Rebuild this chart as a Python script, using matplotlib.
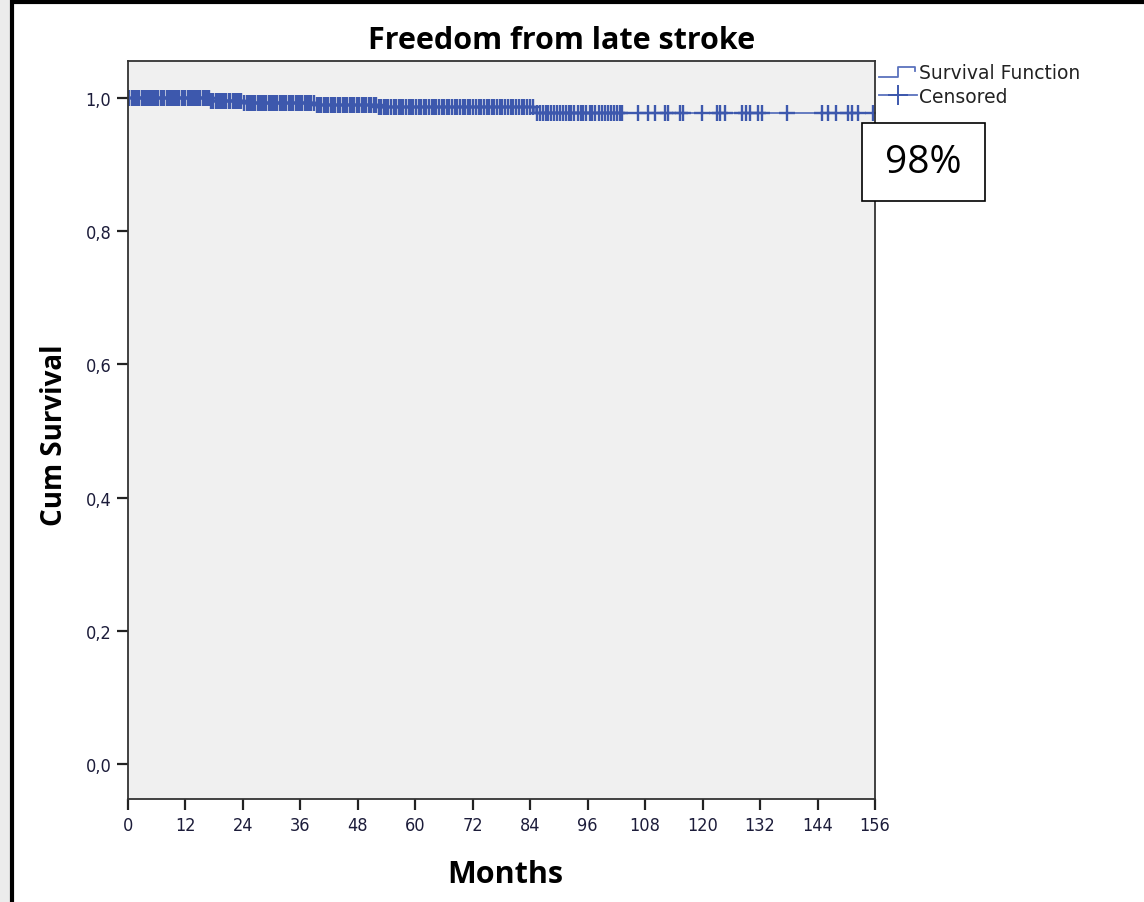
"""
Kaplan-Meier plot: freedom from late stroke
"""
import matplotlib
matplotlib.use("Agg")
import matplotlib.pyplot as plt
from matplotlib.patches import Rectangle
from matplotlib.lines import Line2D
from matplotlib.legend_handler import HandlerBase
from matplotlib.ticker import FuncFormatter

# event times (months) and survival after each event
event_months = [0.0, 17.1, 24.0, 39.0, 52.0, 85.0]
event_survival = [1.0, 0.996, 0.993, 0.990, 0.987, 0.977]

# censored follow-up times (months)
censored_months = [
    0.3, 0.8, 1.2, 1.7, 2.0, 2.4, 2.9, 3.3, 3.8, 4.1, 4.6, 5.0, 5.5, 5.9,
    6.3, 6.8, 7.2, 7.6, 8.1, 8.5, 9.0, 9.4, 9.8, 10.3, 10.7, 11.2, 11.6,
    12.0, 12.5, 12.9, 13.3, 13.8, 14.2, 14.7, 15.1, 15.6, 16.0, 16.5, 16.9,
    17.4, 17.8, 18.3, 18.7, 19.2, 19.6, 20.1, 20.5, 21.0, 21.4, 21.9, 22.3,
    22.8, 23.2, 23.7, 24.3, 24.8, 25.2, 25.7, 26.1, 26.6, 27.1, 27.5, 28.0,
    28.4, 28.9, 29.4, 29.8, 30.3, 30.8, 31.2, 31.7, 32.2, 32.6, 33.1, 33.6,
    34.0, 34.5, 35.0, 35.5, 35.9, 36.4, 36.9, 37.4, 37.8, 38.3, 38.8, 39.4,
    39.9, 40.4, 40.9, 41.4, 41.8, 42.3, 42.8, 43.3, 43.8, 44.3, 44.8, 45.3,
    45.8, 46.3, 46.8, 47.3, 47.8, 48.3, 48.8, 49.3, 49.8, 50.3, 50.8, 51.3,
    51.8, 52.4, 52.9, 53.4, 53.9, 54.4, 54.9, 55.5, 56.0, 56.5, 57.0, 57.5,
    58.1, 58.6, 59.1, 59.6, 60.2, 60.7, 61.2, 61.8, 62.3, 62.8, 63.4, 63.9,
    64.4, 65.0, 65.5, 66.0, 66.6, 67.1, 67.7, 68.2, 68.8, 69.3, 69.9, 70.4,
    71.0, 71.5, 72.1, 72.6, 73.2, 73.7, 74.3, 74.9, 75.4, 76.0, 76.5, 77.1,
    77.7, 78.2, 78.8, 79.4, 79.9, 80.5, 81.1, 81.7, 82.2, 82.8, 83.4, 84.0,
    84.5, 85.4, 86.0, 86.6, 87.2, 87.8, 88.4, 89.0, 89.6, 90.2, 90.8, 91.4,
    92.0, 92.6, 93.2, 93.9, 94.5, 95.1, 95.7, 96.4, 97.0, 97.6, 98.3, 98.9,
    99.6, 100.2, 100.9, 101.5, 102.2, 102.8, 103.2,
    106.5, 108.6, 110.0, 112.1, 112.8, 115.3, 115.9, 119.9, 123.0, 123.6,
    124.7, 128.2, 129.1, 129.9, 131.6, 132.4, 137.6, 144.9, 146.2, 147.8,
    150.3, 151.2, 152.4, 155.5,
]

x_ticks = list(range(0, 157, 12))
y_ticks = [0.0, 0.2, 0.4, 0.6, 0.8, 1.0]
final_label = "98%"

line_color = "#5a72bd"
mark_color = "#3d58ad"


def survival_at(t):
    s = event_survival[0]
    for m, v in zip(event_months, event_survival):
        if t >= m:
            s = v
    return s


class StepHandler(HandlerBase):
    """Legend key drawn as a small step."""
    def create_artists(self, legend, orig, xd, yd, width, height, fontsize, trans):
        xs = [-xd, -xd + width * 0.5, -xd + width * 0.5, -xd + width * 0.95,
              -xd + width * 0.95]
        ys = [-yd + height * 0.1, -yd + height * 0.1, -yd + height * 0.85,
              -yd + height * 0.85, -yd + height * 0.55]
        ln = Line2D(xs, ys, color=orig.get_color(), linewidth=orig.get_linewidth(),
                    transform=trans)
        return [ln]


fig = plt.figure(figsize=(11.44, 9.03), dpi=100, facecolor="#ececec")

# white panel with a heavy black frame
fig.patches.append(Rectangle((12 / 1144, -0.01), 1.0, 1 - 3 / 903 + 0.01,
                             transform=fig.transFigure, facecolor="white",
                             edgecolor="black", linewidth=3, zorder=-5))

ax = fig.add_axes([128 / 1144, 1 - 800 / 903, 747 / 1144, 738 / 903])
ax.set_facecolor("#f0f0f0")

steps_x = event_months + [156]
steps_y = event_survival + [event_survival[-1]]
ax.step(steps_x, steps_y, where="post", color=line_color, linewidth=1.3)
ax.plot(censored_months, [survival_at(t) for t in censored_months],
        linestyle="none", marker="+", markersize=11, markeredgewidth=1.7,
        color=mark_color)

ax.set_xlim(0, 156)
ax.set_ylim(-0.0526, 1.0556)
ax.set_xticks(x_ticks)
ax.set_yticks(y_ticks)
ax.yaxis.set_major_formatter(FuncFormatter(lambda v, p: f"{v:.1f}".replace(".", ",")))
ax.tick_params(direction="out", length=8, width=1.6, colors="#222222",
               labelcolor="#1c1c3a", labelsize=13, pad=4)
for lbl in ax.get_xticklabels() + ax.get_yticklabels():
    lbl.set_fontstretch("condensed")
for sp in ax.spines.values():
    sp.set_linewidth(1.3)
    sp.set_color("#333333")

fig.text(562 / 1144, 1 - 41 / 903, "Freedom from late stroke", ha="center",
         va="center", fontsize=22, fontweight="bold", family="Open Sans")
fig.text(505 / 1144, 1 - 875 / 903, "Months", ha="center", va="center",
         fontsize=22, fontweight="bold", family="Open Sans")
fig.text(55 / 1144, 1 - 435 / 903, "Cum Survival", ha="center", va="center",
         rotation=90, fontsize=20, fontweight="bold", family="Open Sans")

step_key = Line2D([], [], color=line_color, linewidth=1.3)
cens_key = Line2D([], [], color=line_color, linewidth=1.3, marker="+",
                  markersize=14, markeredgewidth=1.4, markeredgecolor=mark_color)
fig.legend([step_key, cens_key], ["Survival Function", "Censored"],
           loc="upper left", bbox_to_anchor=(879 / 1144, 1 - 64 / 903),
           frameon=False, fontsize=13.5, handlelength=2.0, handletextpad=0.15,
           labelspacing=0.25, borderaxespad=0, borderpad=0,
           labelcolor="#222222", handler_map={step_key: StepHandler()})

# boxed label for the final survival estimate
fig.patches.append(Rectangle((862 / 1144, 1 - 202 / 903), 123 / 1144, 78 / 903,
                             transform=fig.transFigure, facecolor="white",
                             edgecolor="black", linewidth=1.2, zorder=5))
fig.text(923 / 1144, 1 - 163 / 903, final_label, ha="center", va="center",
         fontsize=28, family="Open Sans", zorder=6)

fig.savefig("out.png", dpi=100, facecolor=fig.get_facecolor())
